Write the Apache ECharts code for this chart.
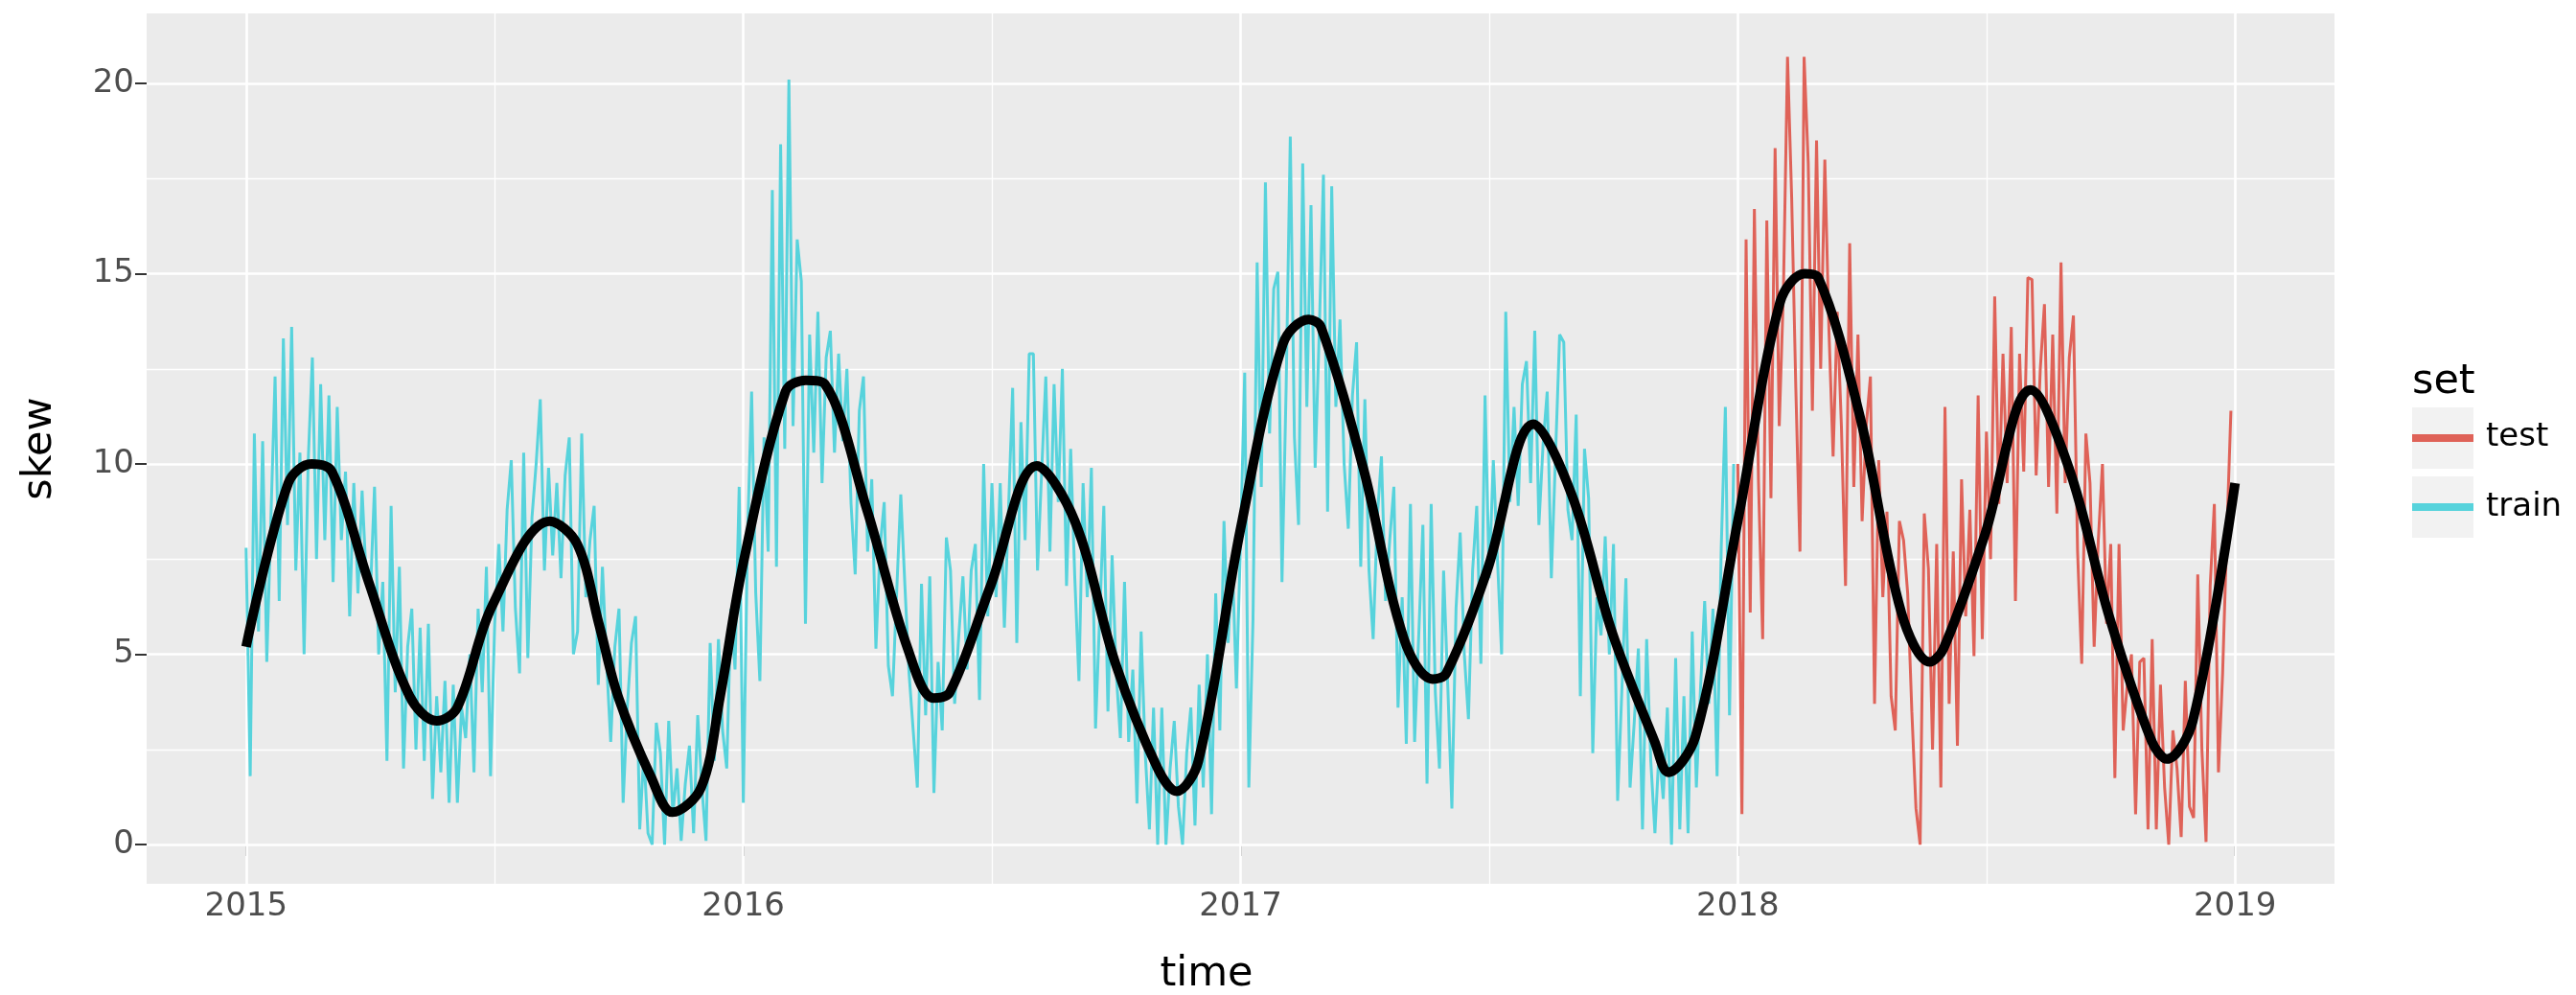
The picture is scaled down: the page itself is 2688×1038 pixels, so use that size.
<!DOCTYPE html>
<html>
<head>
<meta charset="utf-8">
<script src="https://cdn.jsdelivr.net/npm/echarts@6/dist/echarts.min.js"></script>
<style>
  html, body { margin: 0; padding: 0; background: #ffffff; }
  #chart { width: 2688px; height: 1038px; }
</style>
</head>
<body>
<div id="chart"></div>
<script>
// skew readings, ten per month (Jan..Dec)
const train2015 = [
  7.8, 1.8, 10.8, 5.6, 10.6, 4.8, 8.6, 12.3, 6.4, 13.3,
  8.4, 13.6, 7.2, 10.3, 5.0, 10.1, 12.8, 7.5, 12.1, 8.0,
  11.8, 6.9, 11.5, 8.0, 9.8, 6.0, 9.5, 6.6, 9.3, 7.0,
  6.6, 9.4, 5.0, 6.9, 2.2, 8.9, 4.0, 7.3, 2.0, 5.2,
  6.2, 2.5, 5.7, 2.2, 5.8, 1.2, 3.9, 1.9, 4.3, 1.1,
  4.2, 1.1, 3.6, 2.8, 5.0, 1.9, 6.2, 4.0, 7.3, 1.8,
  5.8, 7.9, 5.6, 8.8, 10.1, 6.2, 4.5, 10.3, 4.9, 8.6,
  10.0, 11.7, 7.2, 9.9, 7.6, 9.5, 7.0, 9.7, 10.7, 5.0,
  5.6, 10.8, 6.5, 8.0, 8.9, 4.2, 7.3, 4.8, 2.7, 5.2,
  6.2, 1.1, 3.6, 5.3, 6.0, 0.4, 2.4, 0.3, 0.0, 3.2,
  2.4, 0.0, 3.25, 0.8, 2.0, 0.1, 1.6, 2.6, 0.3, 3.4,
  1.5, 0.1, 5.3, 2.2, 5.4, 3.0, 2.0, 6.2, 4.6, 9.4
];
const train2016 = [
  1.1, 8.0, 11.9, 6.6, 4.3, 10.7, 7.7, 17.2, 7.3, 18.4,
  10.4, 20.1, 11.0, 15.9, 14.8, 5.8, 13.4, 10.3, 14.0, 9.5,
  12.8, 13.5, 10.3, 12.9, 10.6, 12.5, 8.95, 7.1, 11.4, 12.3,
  7.7, 9.6, 5.15, 7.8, 9.0, 4.7, 3.9, 6.6, 9.2, 6.8,
  4.5, 3.0, 1.5, 6.85, 3.4, 7.05, 1.36, 4.8, 3.0, 8.07,
  7.2, 3.7, 5.5, 7.05, 4.6, 7.2, 7.9, 3.8, 10.0, 6.0,
  9.5, 6.5, 9.5, 5.7, 8.8, 12.0, 5.3, 11.1, 8.0, 12.9,
  12.9, 7.2, 9.8, 12.3, 7.7, 12.1, 9.0, 12.5, 6.8, 10.4,
  7.0, 4.3, 9.5, 6.5, 9.9, 3.05, 6.0, 8.9, 3.5, 7.6,
  4.5, 2.8, 6.9, 2.7, 4.6, 1.08, 5.6, 2.4, 0.4, 3.6,
  0.0, 3.6, 0.0, 2.0, 3.25, 1.0, 0.0, 2.4, 3.6, 0.5,
  4.2, 1.5, 5.0, 0.8, 6.6, 3.0, 8.5, 5.3, 7.5, 4.1
];
const train2017 = [
  8.0, 12.4, 1.5, 5.9, 15.3, 9.4, 17.4, 10.8, 14.6, 15.05,
  6.9, 12.0, 18.6, 10.7, 8.4, 17.9, 11.5, 16.8, 9.9, 13.5,
  17.6, 8.75, 17.3, 11.5, 13.8, 10.0, 8.3, 11.8, 13.2, 7.3,
  11.7, 7.2, 5.4, 8.6, 10.2, 6.4, 8.0, 9.4, 3.6, 6.5,
  2.65, 8.95, 2.7, 5.5, 8.4, 1.6, 8.95, 4.0, 2.0, 7.2,
  4.2, 0.95, 6.2, 8.2, 5.0, 3.3, 7.2, 8.9, 4.75, 11.8,
  7.0, 10.1, 7.5, 5.0, 14.0, 9.0, 11.5, 8.9, 12.1, 12.7,
  9.5, 13.5, 8.4, 10.5, 11.9, 7.0, 10.2, 13.4, 13.2, 8.8,
  8.0, 11.3, 3.9, 10.4, 9.1, 2.4, 6.5, 5.5, 8.1, 5.0,
  7.9, 1.15, 4.0, 7.0, 1.5, 3.2, 5.15, 0.4, 5.4, 2.2,
  0.3, 2.5, 1.2, 3.6, 0.0, 4.9, 0.4, 3.9, 0.3, 5.6,
  1.5, 4.1, 6.4, 3.7, 6.2, 1.8, 7.8, 11.5, 3.4, 10.0
];
const test2018 = [
  10.0, 0.8, 15.9, 6.1, 16.7, 9.5, 5.4, 16.4, 9.1, 18.3,
  11.0, 14.5, 20.7, 17.0, 12.0, 7.7, 20.7, 17.9, 11.4, 18.5,
  12.5, 18.0, 13.5, 10.2, 14.0, 11.0, 6.8, 15.8, 9.4, 13.4,
  8.5, 11.0, 12.3, 3.7, 10.1, 6.5, 8.75, 3.9, 3.0, 8.5,
  8.0, 6.6, 3.5, 0.95, 0.0, 8.7, 7.25, 2.5, 7.9, 1.5,
  11.5, 3.7, 7.7, 2.6, 9.6, 6.0, 8.8, 4.95, 11.8, 5.4,
  10.85, 7.5, 14.4, 8.95, 12.9, 9.5, 13.6, 6.4, 12.9, 9.8,
  14.9, 14.85, 9.7, 12.5, 14.2, 9.4, 13.4, 8.7, 15.3, 9.5,
  12.8, 13.9, 7.7, 4.75, 10.8, 9.5, 5.2, 8.0, 10.0, 5.8,
  7.9, 1.75, 7.9, 3.0, 4.2, 5.0, 0.8, 4.8, 4.9, 0.4,
  5.4, 0.4, 4.2, 1.5, 0.0, 3.0, 2.0, 0.2, 4.3, 1.0,
  0.7, 7.1, 2.5, 0.07, 6.8, 8.95, 1.9, 4.5, 8.1, 11.4
];

// smoothed trend (black curve)
const smoothDates = [
  '2015-01-01', '2015-02-01', '2015-02-18', '2015-03-05', '2015-04-01', '2015-05-01',
  '2015-05-21', '2015-06-05', '2015-07-01', '2015-08-12', '2015-09-01', '2015-09-17',
  '2015-10-01', '2015-10-25', '2015-11-10', '2015-12-01', '2015-12-15', '2016-01-01',
  '2016-02-01', '2016-02-16', '2016-03-01', '2016-04-01', '2016-05-01', '2016-05-20',
  '2016-06-01', '2016-07-01', '2016-08-04', '2016-09-01', '2016-10-01', '2016-11-01',
  '2016-11-15', '2016-12-01', '2017-01-01', '2017-02-01', '2017-02-20', '2017-03-01',
  '2017-04-01', '2017-05-01', '2017-05-22', '2017-06-01', '2017-07-01', '2017-08-04',
  '2017-09-01', '2017-10-01', '2017-11-01', '2017-11-11', '2017-12-01', '2018-01-01',
  '2018-02-01', '2018-02-19', '2018-03-01', '2018-04-01', '2018-05-01', '2018-05-22',
  '2018-06-01', '2018-07-01', '2018-08-04', '2018-09-01', '2018-10-01', '2018-11-01',
  '2018-11-12', '2018-12-01', '2019-01-01'
];
const smoothValues = [
  5.2, 9.5, 10.0, 9.8, 6.9, 3.9,
  3.25, 3.6, 6.3, 8.5, 7.9, 5.8,
  3.9, 1.8, 0.85, 1.5, 3.9, 7.4,
  11.9, 12.2, 12.1, 8.8, 5.15, 3.85,
  4.0, 6.8, 9.95, 8.5, 4.75, 2.0,
  1.4, 2.2, 8.3, 13.15, 13.8, 13.6,
  9.9, 5.4, 4.35, 4.5, 7.2, 11.05,
  9.2, 5.55, 2.7, 1.9, 2.85, 8.5,
  14.25, 15.0, 14.9, 11.2, 6.1, 4.8,
  5.15, 8.1, 11.95, 9.9, 5.95, 2.7,
  2.25, 3.25, 9.5
];

const yearTicks = [2015, 2016, 2017, 2018, 2019];
const yearMinor = [2015.5, 2016.5, 2017.5, 2018.5];
const skewTicks = [0, 5, 10, 15, 20];
const skewMinor = [2.5, 7.5, 12.5, 17.5];

const TEST_COLOR = '#DF6258';
const TRAIN_COLOR = '#57D3DC';
const FONT = "'DejaVu Sans', sans-serif";

function toYear(s) {
  const [y, m, d] = s.split('-').map(Number);
  const start = Date.UTC(y, 0, 1);
  const end = Date.UTC(y + 1, 0, 1);
  return y + (Date.UTC(y, m - 1, d) - start) / (end - start);
}

// ten readings per month -> [decimal year, value]
function monthly(year, values) {
  return values.map((v, k) => [year + (Math.floor(k / 10) + (k % 10) / 10) / 12, v]);
}

const trainData = [].concat(monthly(2015, train2015), monthly(2016, train2016), monthly(2017, train2017));
const testData = monthly(2018, test2018);
const smoothData = smoothDates.map((d, i) => [toYear(d), smoothValues[i]]);

const gridLines = [].concat(
  yearTicks.map(v => ({ xAxis: v, lineStyle: { width: 2.6 } })),
  yearMinor.map(v => ({ xAxis: v, lineStyle: { width: 1.3 } })),
  skewTicks.map(v => ({ yAxis: v, lineStyle: { width: 2.6 } })),
  skewMinor.map(v => ({ yAxis: v, lineStyle: { width: 1.3 } }))
);

const chart = echarts.init(document.getElementById('chart'));
chart.setOption({
  animation: false,
  textStyle: { fontFamily: FONT },
  grid: {
    left: 153, right: 252, top: 14, bottom: 116,
    show: true, backgroundColor: '#EBEBEB', borderWidth: 0
  },
  xAxis: {
    type: 'value', min: 2014.8, max: 2019.2,
    axisLine: { show: false },
    axisTick: { show: true, length: 12, customValues: yearTicks, lineStyle: { color: '#333333', width: 2 } },
    axisLabel: { customValues: yearTicks, margin: 7, fontSize: 34, color: '#4D4D4D', fontFamily: FONT,
      formatter: v => String(v) },
    splitLine: { show: false }
  },
  yAxis: {
    type: 'value', min: -1.03, max: 21.84,
    axisLine: { show: false },
    axisTick: { show: true, length: 12, customValues: skewTicks, lineStyle: { color: '#333333', width: 2 } },
    axisLabel: { customValues: skewTicks, margin: 13, fontSize: 34, color: '#4D4D4D', fontFamily: FONT,
      formatter: v => String(v) },
    splitLine: { show: false }
  },
  series: [
    {
      name: 'train', type: 'line', data: trainData, z: 2,
      showSymbol: false, symbol: 'none', sampling: false,
      lineStyle: { color: TRAIN_COLOR, width: 3 },
      markLine: {
        silent: true, symbol: 'none', z: 1, animation: false,
        label: { show: false },
        lineStyle: { color: '#FFFFFF', type: 'solid' },
        emphasis: { disabled: true },
        data: gridLines
      }
    },
    {
      name: 'test', type: 'line', data: testData, z: 2,
      showSymbol: false, symbol: 'none',
      lineStyle: { color: TEST_COLOR, width: 3 }
    },
    {
      name: 'smooth', type: 'line', data: smoothData, z: 3,
      showSymbol: false, symbol: 'none', smooth: 0.35,
      lineStyle: { color: '#000000', width: 10 }
    }
  ],
  graphic: [
    { type: 'text', x: 42, y: 468, rotation: Math.PI / 2,
      style: { text: 'skew', fontSize: 43, fontFamily: FONT, fill: '#000', align: 'center', verticalAlign: 'middle' } },
    { type: 'text', x: 1259, y: 1017,
      style: { text: 'time', fontSize: 43, fontFamily: FONT, fill: '#000', align: 'center', verticalAlign: 'middle' } },
    { type: 'text', x: 2517, y: 399,
      style: { text: 'set', fontSize: 43, fontFamily: FONT, fill: '#000', align: 'left', verticalAlign: 'middle' } },
    { type: 'rect', shape: { x: 2517, y: 425, width: 64, height: 64 }, style: { fill: '#F2F2F2' } },
    { type: 'rect', shape: { x: 2517, y: 497, width: 64, height: 64 }, style: { fill: '#F2F2F2' } },
    { type: 'line', shape: { x1: 2517, y1: 457, x2: 2581, y2: 457 }, style: { stroke: TEST_COLOR, lineWidth: 8 } },
    { type: 'line', shape: { x1: 2517, y1: 529, x2: 2581, y2: 529 }, style: { stroke: TRAIN_COLOR, lineWidth: 8 } },
    { type: 'text', x: 2594, y: 456,
      style: { text: 'test', fontSize: 34, fontFamily: FONT, fill: '#000', align: 'left', verticalAlign: 'middle' } },
    { type: 'text', x: 2594, y: 529,
      style: { text: 'train', fontSize: 34, fontFamily: FONT, fill: '#000', align: 'left', verticalAlign: 'middle' } }
  ]
});
</script>
</body>
</html>
